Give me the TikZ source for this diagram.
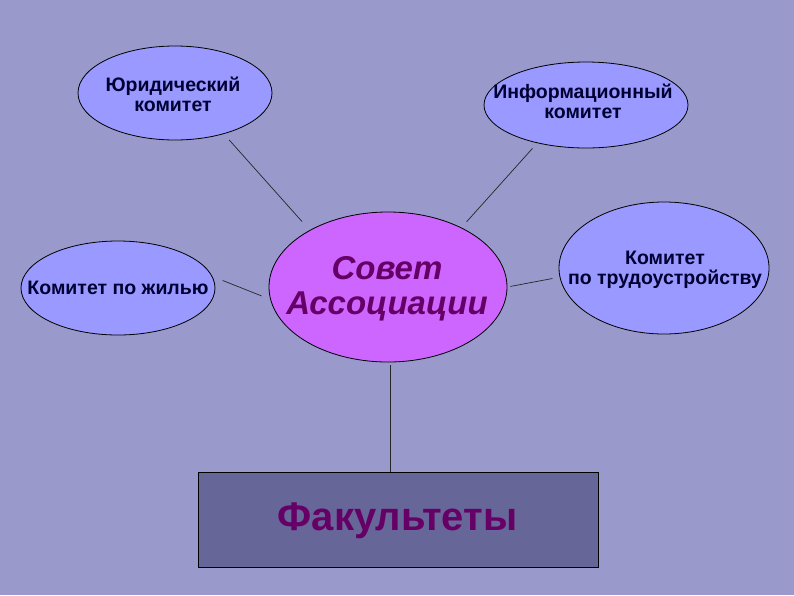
\documentclass[tikz,border=0pt]{standalone}
\usepackage{fontspec}
\setmainfont{Liberation Sans}
\usetikzlibrary{shapes.geometric}
\definecolor{bgc}{HTML}{9999CC}
\definecolor{ellc}{HTML}{9999FF}
\definecolor{cenc}{HTML}{CC66FF}
\definecolor{rectc}{HTML}{666699}
\definecolor{txtc}{HTML}{000033}
\definecolor{purp}{HTML}{660066}
\tikzset{
  oval/.style={ellipse, draw=black, line width=0.8pt, fill=ellc, inner sep=0pt},
  lbl/.style={align=center, text=txtc, font=\fontsize{19.5}{20}\selectfont\bfseries},
  conn/.style={draw=black!85, line width=0.7pt}
}
\begin{document}
\begin{tikzpicture}[x=1pt,y=-1pt]
\fill[bgc] (0,0) rectangle (794,595);
\useasboundingbox (0,0) rectangle (794,595);

\node[oval, minimum width=194pt, minimum height=94pt] (yur) at (175,93) {};
\node[lbl] (yurt) at (173,94) {Юридический\\комитет};

\node[oval, minimum width=204pt, minimum height=86pt] (inf) at (586,105) {};
\node[lbl] (inft) at (583,101) {Информационный\\комитет};

\node[oval, minimum width=194pt, minimum height=94pt] (zhil) at (118,288) {};
\node[lbl] (zhilt) at (118,288) {Комитет по жилью};

\node[oval, minimum width=210pt, minimum height=132pt] (trud) at (664,268) {};
\node[lbl] (trudt) at (665,270) {Комитет\\по трудоустройству};

\node[ellipse, draw=black, line width=0.8pt, fill=cenc, inner sep=0pt,
      minimum width=238pt, minimum height=150pt] (sovet) at (388,287) {};
\node[align=center, text=purp, font=\fontsize{33}{35}\selectfont\bfseries\itshape] (sovett) at (387,289) {Совет\\Ассоциации};

\node[draw=black, line width=0.8pt, fill=rectc, minimum width=400pt, minimum height=95pt, inner sep=0pt] (fac) at (398,519.5) {};
\node[text=purp, font=\fontsize{40}{41}\selectfont\bfseries] (fact) at (397.5,521) {Факультеты};

\draw[conn, shorten <=8pt, shorten >=11.5pt] (yur.-40.7) -- (sovet.144.2);
\draw[conn, shorten <=7pt, shorten >=7.7pt] (inf.218) -- (sovet.39.2);
\draw[conn, shorten <=11pt, shorten >=9.3pt] (zhil.7.4) -- (sovet.186.1);
\draw[conn, shorten <=3pt, shorten >=7.3pt] (sovet.0.8) -- (trud.185.5);
\draw[conn, shorten <=3pt] ([xshift=2pt]sovet.south) -- ([xshift=2pt]sovet.south |- fac.north);
\end{tikzpicture}
\end{document}
